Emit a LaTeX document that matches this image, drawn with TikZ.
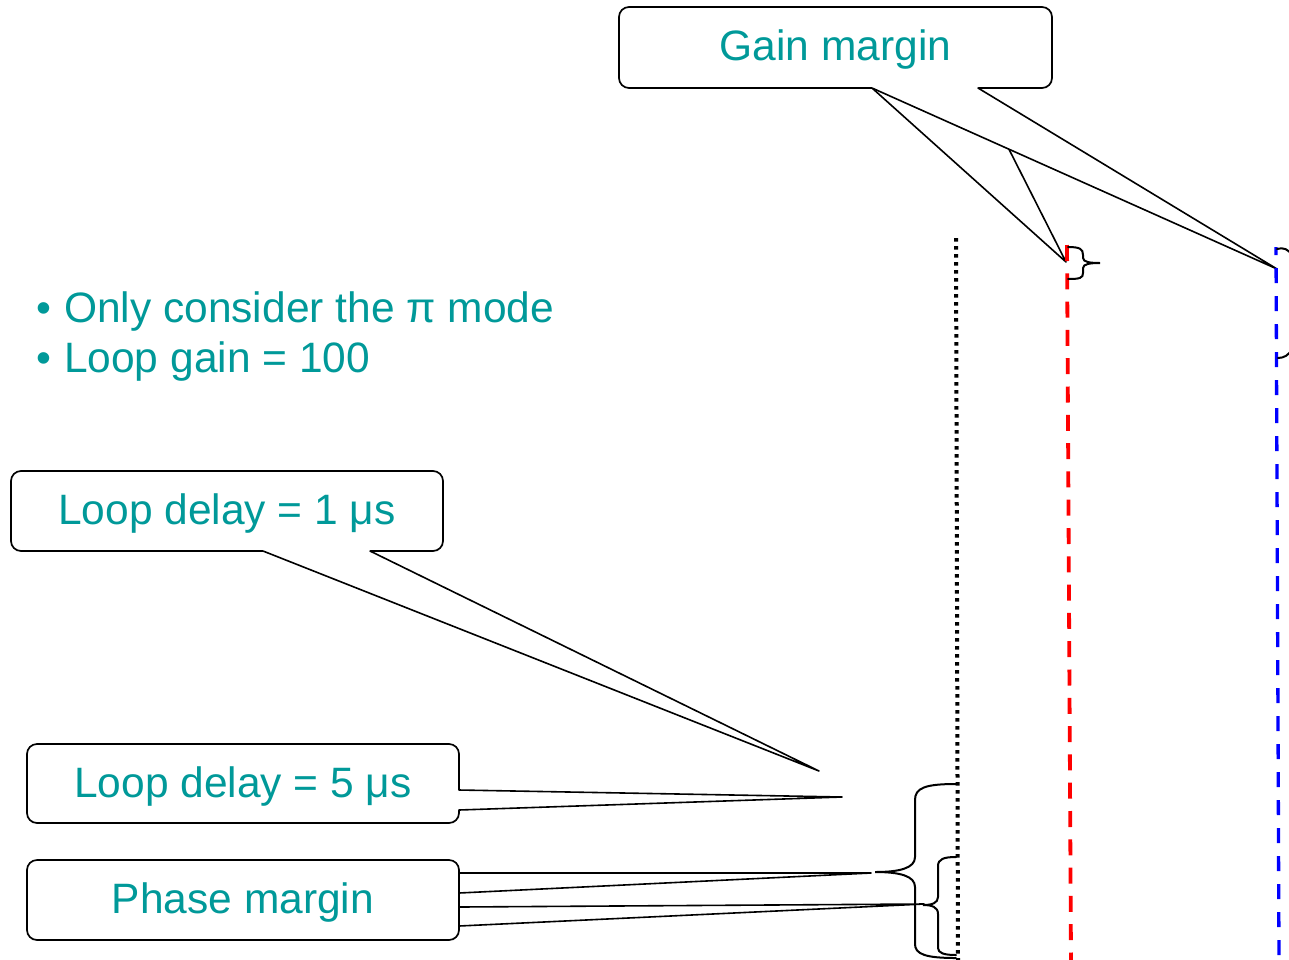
\documentclass[tikz,border=0pt]{standalone}
\usepackage{fontspec}
\setmainfont{Liberation Sans}
\definecolor{tealc}{RGB}{0,153,153}
\begin{document}
\begin{tikzpicture}[x=1pt,y=-1pt,
  box/.style={draw, line width=1.7pt, rounded corners=10pt, fill=white, inner sep=0pt},
  lbl/.style={text=tealc, font=\fontsize{42.5}{50}\selectfont, inner sep=0pt, anchor=base},
  wline/.style={line width=1.6pt, line join=round, line cap=round},
  bracestyle/.style={line width=2pt, line cap=round},
]
\useasboundingbox (0,0) rectangle (1289,959);
\clip (0,0) rectangle (1289,959);

% ---------- Gain margin callout ----------
\node[box, minimum width=433pt, minimum height=81pt] (gmbox) at (835.5,47.5) {};
\node[lbl] (gmtext) at (835.5,60) {Gain margin};
\coordinate (gmL) at (872,88);
\coordinate (gmR) at (978,88);
\coordinate (tipR) at (1066,262);
\coordinate (tipB) at (1277,269);
\fill[white] (gmL) -- (tipR) -- (gmR) -- (978,85) -- (872,85) -- cycle;
\draw[wline] (gmL) -- (tipR) -- (gmR);
\fill[white] (gmL) -- (tipB) -- (gmR) -- (978,85) -- (872,85) -- cycle;
\draw[wline] (gmL) -- (tipB) -- (gmR);

% ---------- Loop delay = 1 us ----------
\node[box, minimum width=432pt, minimum height=80pt] (l1box) at (227,511) {};
\node[lbl] (l1text) at (227,524) {Loop delay = 1 μs};
\coordinate (l1L) at (263,551);
\coordinate (l1R) at (370,551);
\coordinate (l1tip) at (819,771);
\fill[white] (l1L) -- (l1tip) -- (l1R) -- (370,548) -- (263,548) -- cycle;
\draw[wline] (l1L) -- (l1tip) -- (l1R);

% ---------- Loop delay = 5 us ----------
\node[box, minimum width=432pt, minimum height=79pt] (l5box) at (243,783.5) {};
\node[lbl] (l5text) at (243,797) {Loop delay = 5 μs};
\coordinate (l5T) at (459,790);
\coordinate (l5B) at (459,810);
\coordinate (l5tip) at (842,797);
\fill[white] (l5T) -- (l5tip) -- (l5B) -- (456,810) -- (456,790) -- cycle;
\draw[wline] (l5T) -- (l5tip) -- (l5B);

% ---------- Phase margin ----------
\coordinate (pm1T) at (459,873);
\coordinate (pm1B) at (459,893);
\coordinate (pm1tip) at (871,873);
\coordinate (pm2T) at (459,907);
\coordinate (pm2B) at (459,926);
\coordinate (pm2tip) at (924,904);
\filldraw[wline, fill=white] (pm1T) -- (pm1tip) -- (pm1B);
\filldraw[wline, fill=white] (pm2T) -- (pm2tip) -- (pm2B);
\node[box, minimum width=432pt, minimum height=80pt] (pmbox) at (243,900) {};
\node[lbl] (pmtext) at (243,913) {Phase margin};

% ---------- bullets ----------
\node[lbl, anchor=base west] (b1) at (36,322) {•\hspace{13pt}Only consider the π mode};
\node[lbl, anchor=base west] (b2) at (36,372) {•\hspace{13pt}Loop gain = 100};

% ---------- vertical lines ----------
\coordinate (dotTop) at (956,238);
\coordinate (dotBot) at (958,962);
\draw[line width=4pt, dash pattern=on 3.5pt off 4.5pt] (dotTop) -- (dotBot);
\coordinate (redTop) at (1067,245);
\coordinate (redBot) at (1071,962);
\draw[red, line width=3.8pt, dash pattern=on 16pt off 12.3pt] (redTop) -- (redBot);
\coordinate (blueTop) at (1276,247);
\coordinate (blueBot) at (1279,962);
\draw[blue, line width=3.3pt, dash pattern=on 15pt off 13pt, dash phase=7pt] (blueTop) -- (blueBot);

% ---------- braces ----------
\draw[bracestyle] (1068,247) .. controls (1080,247) and (1083,249) .. (1083,255) -- (1083,258)
  .. controls (1083,262) and (1090,263) .. (1100,263)
  .. controls (1090,263) and (1083,264) .. (1083,268) -- (1083,273)
  .. controls (1083,278) and (1080,279) .. (1068,279);
\draw[bracestyle] (1277,249) .. controls (1283,247) and (1289,249) .. (1292,256);
\draw[bracestyle] (1278,358) .. controls (1284,358) and (1289,355) .. (1292,349);
\draw[bracestyle] (956,784) .. controls (925,784) and (915,788) .. (915,800) -- (915,857)
  .. controls (915,868) and (900,872) .. (875,872)
  .. controls (900,872) and (915,876) .. (915,887) -- (915,944)
  .. controls (915,954) and (925,958) .. (956,958);
\draw[bracestyle] (956,857) .. controls (944,857) and (938,859) .. (938,866) -- (938,897)
  .. controls (938,903) and (932,905) .. (923,905)
  .. controls (932,905) and (938,907) .. (938,914) -- (938,948)
  .. controls (938,953) and (944,955) .. (956,955);
\end{tikzpicture}
\end{document}
